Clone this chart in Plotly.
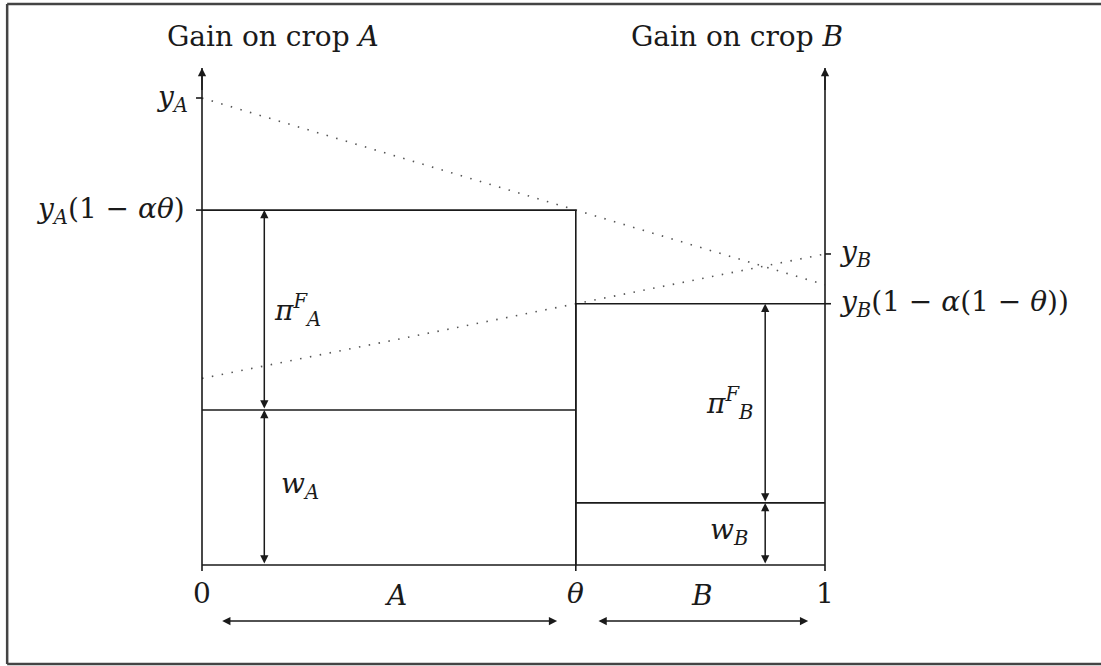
import plotly.graph_objects as go

# Model parameters (y scaled so that y_A = 1)
theta = 0.60
alpha = 0.40
y_A = 1.0
y_B = 0.666
w_A = 0.332
w_B = 0.133

# Labels
titles = ["Gain on crop <i>A</i>", "Gain on crop <i>B</i>"]
x_tick_labels = ["0", "<i>θ</i>", "1"]
segment_labels = ["<i>A</i>", "<i>B</i>"]

# Derived levels
gain_A = y_A * (1 - alpha * theta)
gain_B = y_B * (1 - alpha * (1 - theta))
axis_top = 1.064

FONT = "DejaVu Serif"
INK = "#1a1a1a"

fig = go.Figure()


def seg(xs, ys, dash=None, color=INK, width=1.6):
    fig.add_trace(go.Scatter(
        x=xs, y=ys, mode="lines", hoverinfo="skip", showlegend=False,
        line=dict(color=color, width=width, dash=dash)
    ))


# Dotted gain lines
seg([0, 1], [y_A, y_A * (1 - alpha)], dash="1.5px,8.5px", color="#555555", width=1.6)
seg([0, 1], [y_B * (1 - alpha), y_B], dash="1.5px,8.5px", color="#555555", width=1.6)

# Axes and boxes
seg([0, 0], [0, axis_top])
seg([1, 1], [0, axis_top])
seg([0, 1], [0, 0])
seg([0, theta, theta], [gain_A, gain_A, 0])
seg([0, theta], [w_A, w_A])
seg([theta, theta, 1], [0, gain_B, gain_B])
seg([theta, 1], [w_B, w_B])

# Tick marks
tx = 0.0096
ty = 0.013
for v in [y_A, gain_A]:
    seg([-tx, 0], [v, v])
for v in [y_B, gain_B]:
    seg([1, 1 + tx], [v, v])
for v in [0, theta, 1]:
    seg([v, v], [0, -ty])


def arrow(x0, y0, x1, y1, both=False):
    fig.add_annotation(
        x=x1, y=y1, ax=x0, ay=y0, xref="x", yref="y", axref="x", ayref="y",
        text="", showarrow=True, arrowhead=2, arrowsize=1.1, arrowwidth=1.5,
        arrowcolor=INK, arrowside="end+start" if both else "end",
        standoff=0, startstandoff=0
    )


def label(x, y, text, size=28, xanchor="center"):
    fig.add_annotation(
        x=x, y=y, xref="x", yref="y", text=text, showarrow=False,
        xanchor=xanchor, yanchor="middle",
        font=dict(family=FONT, size=size, color=INK)
    )


# Axis arrowheads
arrow(0, axis_top - 0.05, 0, axis_top)
arrow(1, axis_top - 0.05, 1, axis_top)

# Vertical double arrows
xa = 0.1
xb = 0.904
arrow(xa, w_A, xa, gain_A, both=True)
arrow(xa, 0, xa, w_A, both=True)
arrow(xb, w_B, xb, gain_B, both=True)
arrow(xb, 0, xb, w_B, both=True)

# Horizontal double arrows under the x axis
ya = -0.12
arrow(0.03, ya, theta - 0.03, ya, both=True)
arrow(theta + 0.034, ya, 1 - 0.027, ya, both=True)

# Titles
label(0.114, 1.131, titles[0])
label(0.859, 1.131, titles[1])

# Y labels
label(-0.02, y_A, "<i>y<sub>A</sub></i>", xanchor="right")
label(-0.024, gain_A, "<i>y<sub>A</sub></i>(1 − <i>αθ</i>)", xanchor="right")
label(1.019, y_B, "<i>y<sub>B</sub></i>", xanchor="left")
label(1.019, gain_B, "<i>y<sub>B</sub></i>(1 − <i>α</i>(1 − <i>θ</i>))", xanchor="left")

# X labels
for v, t in zip([0, theta, 1], x_tick_labels):
    label(v, -0.06, t)
label(theta * 0.31 / 0.6, -0.065, segment_labels[0])
label(theta + (1 - theta) * 0.508, -0.065, segment_labels[1])

# Arrow labels
label(xa + 0.054, (w_A + gain_A) / 2, "<i>π</i><sup><i>F</i></sup><sub><i>A</i></sub>")
label(xa + 0.058, w_A / 2 + 0.005, "<i>w<sub>A</sub></i>")
label(xb - 0.057, (w_B + gain_B) / 2, "<i>π</i><sup><i>F</i></sup><sub><i>B</i></sub>")
label(xb - 0.058, w_B / 2 + 0.005, "<i>w<sub>B</sub></i>")

# Frame around the figure (open on the right)
fig.add_shape(type="line", xref="paper", yref="paper", x0=0.0065, x1=0.0065, y0=0.003, y1=0.994,
              line=dict(color="#444444", width=2.5))
fig.add_shape(type="line", xref="paper", yref="paper", x0=0.0065, x1=1, y0=0.994, y1=0.994,
              line=dict(color="#444444", width=2.5))
fig.add_shape(type="line", xref="paper", yref="paper", x0=0.0065, x1=1, y0=0.003, y1=0.003,
              line=dict(color="#444444", width=2.5))

fig.update_layout(
    width=1101, height=666,
    margin=dict(l=0, r=0, t=0, b=0),
    plot_bgcolor="white", paper_bgcolor="white",
    xaxis=dict(range=[-202 / 623, 899 / 623], visible=False, fixedrange=True),
    yaxis=dict(range=[-101 / 467, 565 / 467], visible=False, fixedrange=True),
    showlegend=False,
)

# drop the page's default body margin so the figure fills the window
fig.write_html("out.html", config={"displayModeBar": False},
               post_script="document.body.style.margin='0px';")
